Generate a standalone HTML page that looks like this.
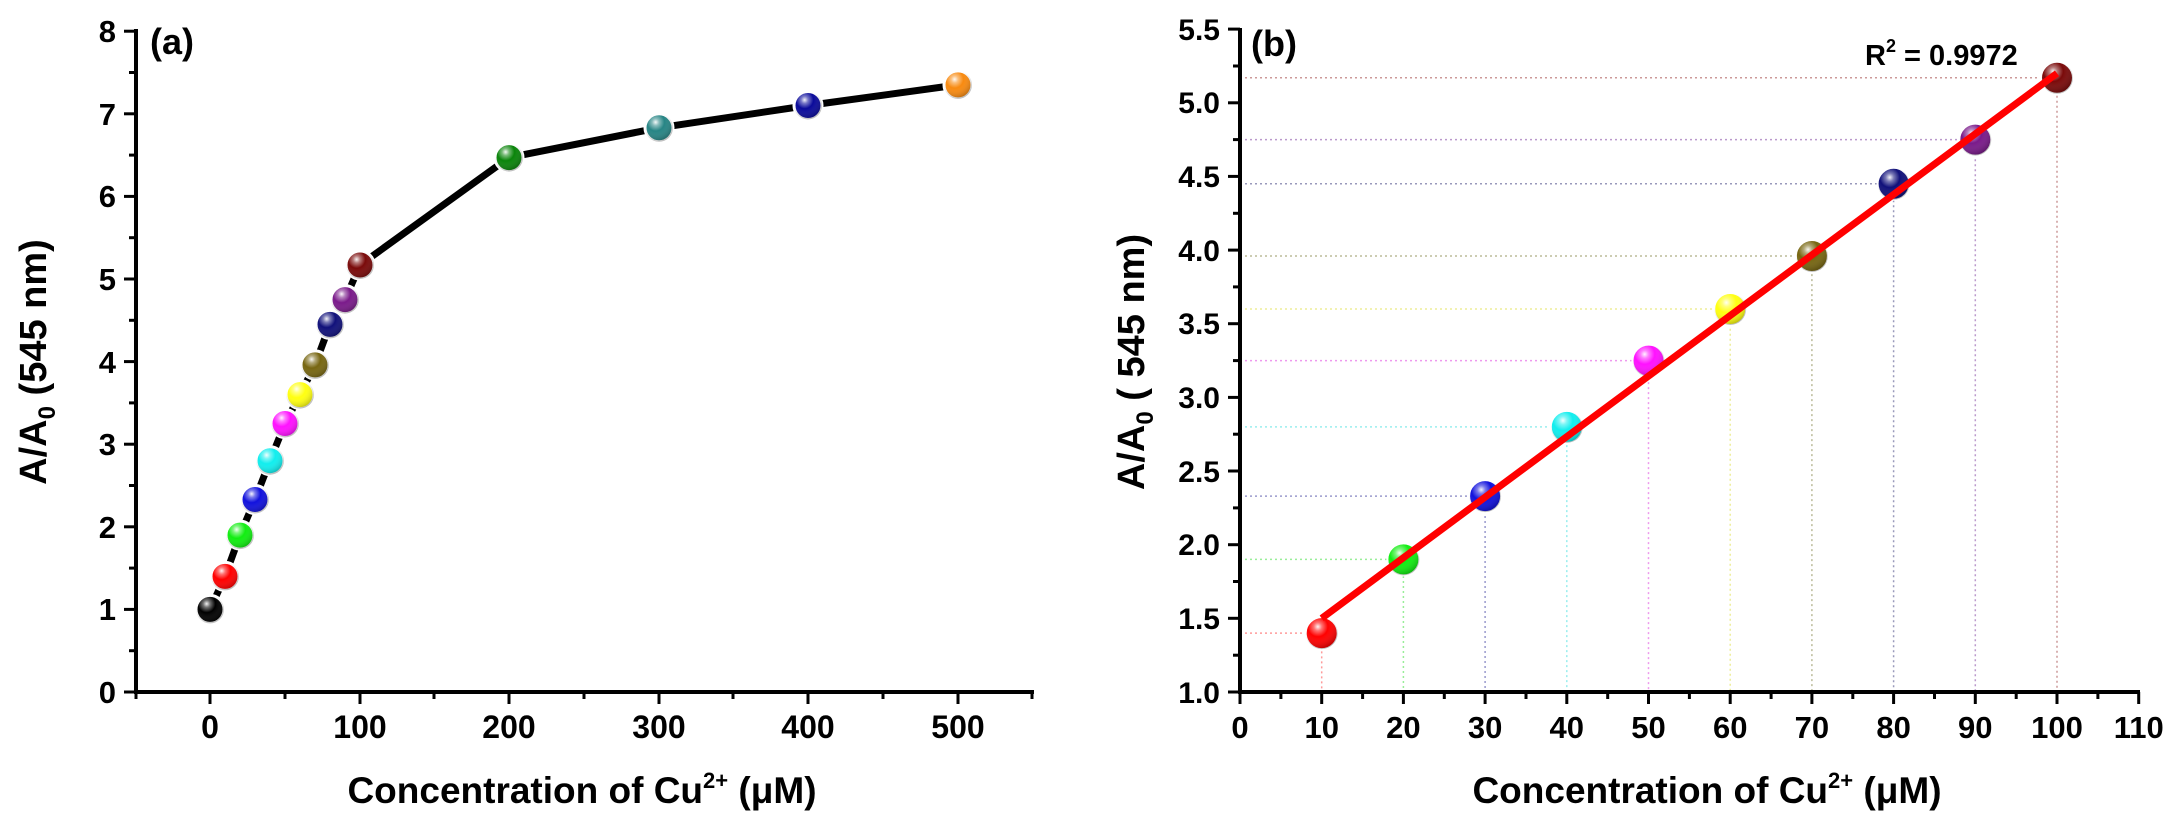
<!DOCTYPE html>
<html><head><meta charset="utf-8"><style>
html,body{margin:0;padding:0;background:#fff;}
svg{display:block;font-family:"Liberation Sans",Arial,sans-serif;font-weight:bold;}
</style></head><body>
<svg width="2179" height="828" viewBox="0 0 2179 828" xmlns="http://www.w3.org/2000/svg">
<defs>
<radialGradient id="hl" cx="0.38" cy="0.3" r="0.7">
<stop offset="0" stop-color="#fff" stop-opacity="0.95"/>
<stop offset="0.18" stop-color="#fff" stop-opacity="0.45"/>
<stop offset="0.45" stop-color="#fff" stop-opacity="0"/>
<stop offset="1" stop-color="#000" stop-opacity="0.25"/>
</radialGradient>
</defs>

<!-- ===== Panel A ===== -->
<g stroke="#000" stroke-width="4" fill="none">
<line x1="136" y1="29" x2="136" y2="694"/>
<line x1="134" y1="692" x2="1034" y2="692"/>
</g>
<g stroke="#000" stroke-width="3">
<line x1="124" y1="692" x2="136" y2="692"/><line x1="124" y1="609.4" x2="136" y2="609.4"/><line x1="124" y1="526.8" x2="136" y2="526.8"/><line x1="124" y1="444.2" x2="136" y2="444.2"/><line x1="124" y1="361.6" x2="136" y2="361.6"/><line x1="124" y1="279" x2="136" y2="279"/><line x1="124" y1="196.4" x2="136" y2="196.4"/><line x1="124" y1="113.8" x2="136" y2="113.8"/><line x1="124" y1="31.2" x2="136" y2="31.2"/>
<line x1="129" y1="650.7" x2="136" y2="650.7"/><line x1="129" y1="568.1" x2="136" y2="568.1"/><line x1="129" y1="485.5" x2="136" y2="485.5"/><line x1="129" y1="402.9" x2="136" y2="402.9"/><line x1="129" y1="320.3" x2="136" y2="320.3"/><line x1="129" y1="237.7" x2="136" y2="237.7"/><line x1="129" y1="155.1" x2="136" y2="155.1"/><line x1="129" y1="72.5" x2="136" y2="72.5"/>
<line x1="210" y1="692" x2="210" y2="704"/><line x1="360" y1="692" x2="360" y2="704"/><line x1="509" y1="692" x2="509" y2="704"/><line x1="659" y1="692" x2="659" y2="704"/><line x1="808" y1="692" x2="808" y2="704"/><line x1="958" y1="692" x2="958" y2="704"/>
<line x1="136" y1="692" x2="136" y2="699"/><line x1="285" y1="692" x2="285" y2="699"/><line x1="434" y1="692" x2="434" y2="699"/><line x1="584" y1="692" x2="584" y2="699"/><line x1="733" y1="692" x2="733" y2="699"/><line x1="883" y1="692" x2="883" y2="699"/><line x1="1032" y1="692" x2="1032" y2="699"/>
</g>
<g font-size="31" text-anchor="end">
<text x="116" y="703">0</text><text x="116" y="620">1</text><text x="116" y="538">2</text><text x="116" y="455">3</text><text x="116" y="373">4</text><text x="116" y="290">5</text><text x="116" y="207">6</text><text x="116" y="125">7</text><text x="116" y="42">8</text>
</g>
<g font-size="32" text-anchor="middle">
<text x="210" y="738">0</text><text x="360" y="738">100</text><text x="509" y="738">200</text><text x="659" y="738">300</text><text x="808" y="738">400</text><text x="958" y="738">500</text>
</g>
<text x="582" y="803" font-size="37" text-anchor="middle">Concentration of Cu<tspan font-size="22" dy="-15">2+</tspan><tspan dy="15"> (μM)</tspan></text>
<text transform="translate(46,362) rotate(-90)" font-size="38" text-anchor="middle">A/A<tspan font-size="24" dy="9">0</tspan><tspan dy="-9"> (545 nm)</tspan></text>
<text x="150" y="54" font-size="36">(a)</text>

<polyline fill="none" stroke="#000" stroke-width="7" stroke-linejoin="round" points="210,609.4 225,576.4 240,535.1 255,499.5 270,460.7 285,423.5 300,394.6 315,364.9 330,324.4 345,299.6 360,265 509,157.6 659,127.8 808,105.5 958,84.9"/>
<g stroke="#fff" stroke-width="3">
<circle cx="210" cy="609.4" r="14" fill="#000"/><circle cx="225" cy="576.4" r="14" fill="#f00"/><circle cx="240" cy="535.1" r="14" fill="#1e1"/><circle cx="255" cy="499.5" r="14" fill="#11d"/><circle cx="270" cy="460.7" r="14" fill="#1ee"/><circle cx="285" cy="423.5" r="14" fill="#f1f"/><circle cx="300" cy="394.6" r="14" fill="#ff1"/><circle cx="315" cy="364.9" r="14" fill="#776611"/><circle cx="330" cy="324.4" r="14" fill="#10107a"/><circle cx="345" cy="299.6" r="14" fill="#7a1a8a"/><circle cx="360" cy="265" r="14" fill="#7a0a0a"/><circle cx="509" cy="157.6" r="14" fill="#0a840a"/><circle cx="659" cy="127.8" r="14" fill="#278585"/><circle cx="808" cy="105.5" r="14" fill="#0a0a9a"/><circle cx="958" cy="84.9" r="14" fill="#f88a10"/>
</g>
<g fill="url(#hl)">
<circle cx="210" cy="609.4" r="14"/><circle cx="225" cy="576.4" r="14"/><circle cx="240" cy="535.1" r="14"/><circle cx="255" cy="499.5" r="14"/><circle cx="270" cy="460.7" r="14"/><circle cx="285" cy="423.5" r="14"/><circle cx="300" cy="394.6" r="14"/><circle cx="315" cy="364.9" r="14"/><circle cx="330" cy="324.4" r="14"/><circle cx="345" cy="299.6" r="14"/><circle cx="360" cy="265" r="14"/><circle cx="509" cy="157.6" r="14"/><circle cx="659" cy="127.8" r="14"/><circle cx="808" cy="105.5" r="14"/><circle cx="958" cy="84.9" r="14"/>
</g>

<!-- ===== Panel B ===== -->
<g stroke-width="1.5" stroke-dasharray="2,3" fill="none">
<polyline stroke="#f99" points="1240,633.1 1321.7,633.1 1321.7,692"/>
<polyline stroke="#9e9" points="1240,559.4 1403.4,559.4 1403.4,692"/>
<polyline stroke="#99c" points="1240,496.1 1485.1,496.1 1485.1,692"/>
<polyline stroke="#9ee" points="1240,426.9 1566.8,426.9 1566.8,692"/>
<polyline stroke="#e9e" points="1240,360.6 1648.5,360.6 1648.5,692"/>
<polyline stroke="#ee9" points="1240,309 1730.2,309 1730.2,692"/>
<polyline stroke="#bb9" points="1240,256 1811.9,256 1811.9,692"/>
<polyline stroke="#99b" points="1240,183.8 1893.6,183.8 1893.6,692"/>
<polyline stroke="#b9c" points="1240,139.6 1975.3,139.6 1975.3,692"/>
<polyline stroke="#c99" points="1240,77.8 2057,77.8 2057,692"/>
</g>
<g stroke="#000" stroke-width="4" fill="none">
<line x1="1240" y1="28" x2="1240" y2="694"/>
<line x1="1238" y1="692" x2="2140" y2="692"/>
</g>
<g stroke="#000" stroke-width="3">
<line x1="1228" y1="692" x2="1240" y2="692"/><line x1="1228" y1="618.3" x2="1240" y2="618.3"/><line x1="1228" y1="544.7" x2="1240" y2="544.7"/><line x1="1228" y1="471" x2="1240" y2="471"/><line x1="1228" y1="397.4" x2="1240" y2="397.4"/><line x1="1228" y1="323.7" x2="1240" y2="323.7"/><line x1="1228" y1="250.1" x2="1240" y2="250.1"/><line x1="1228" y1="176.4" x2="1240" y2="176.4"/><line x1="1228" y1="102.8" x2="1240" y2="102.8"/><line x1="1228" y1="29.1" x2="1240" y2="29.1"/>
<line x1="1233" y1="655.2" x2="1240" y2="655.2"/><line x1="1233" y1="581.5" x2="1240" y2="581.5"/><line x1="1233" y1="507.9" x2="1240" y2="507.9"/><line x1="1233" y1="434.2" x2="1240" y2="434.2"/><line x1="1233" y1="360.6" x2="1240" y2="360.6"/><line x1="1233" y1="286.9" x2="1240" y2="286.9"/><line x1="1233" y1="213.3" x2="1240" y2="213.3"/><line x1="1233" y1="139.6" x2="1240" y2="139.6"/><line x1="1233" y1="66" x2="1240" y2="66"/>
<line x1="1240" y1="692" x2="1240" y2="704"/><line x1="1321.7" y1="692" x2="1321.7" y2="704"/><line x1="1403.4" y1="692" x2="1403.4" y2="704"/><line x1="1485.1" y1="692" x2="1485.1" y2="704"/><line x1="1566.8" y1="692" x2="1566.8" y2="704"/><line x1="1648.5" y1="692" x2="1648.5" y2="704"/><line x1="1730.2" y1="692" x2="1730.2" y2="704"/><line x1="1811.9" y1="692" x2="1811.9" y2="704"/><line x1="1893.6" y1="692" x2="1893.6" y2="704"/><line x1="1975.3" y1="692" x2="1975.3" y2="704"/><line x1="2057" y1="692" x2="2057" y2="704"/><line x1="2138.7" y1="692" x2="2138.7" y2="704"/>
<line x1="1280.9" y1="692" x2="1280.9" y2="699"/><line x1="1362.6" y1="692" x2="1362.6" y2="699"/><line x1="1444.3" y1="692" x2="1444.3" y2="699"/><line x1="1526" y1="692" x2="1526" y2="699"/><line x1="1607.7" y1="692" x2="1607.7" y2="699"/><line x1="1689.4" y1="692" x2="1689.4" y2="699"/><line x1="1771.1" y1="692" x2="1771.1" y2="699"/><line x1="1852.8" y1="692" x2="1852.8" y2="699"/><line x1="1934.5" y1="692" x2="1934.5" y2="699"/><line x1="2016.2" y1="692" x2="2016.2" y2="699"/><line x1="2097.9" y1="692" x2="2097.9" y2="699"/>
</g>
<g font-size="30" text-anchor="end">
<text x="1220" y="703">1.0</text><text x="1220" y="629">1.5</text><text x="1220" y="555">2.0</text><text x="1220" y="482">2.5</text><text x="1220" y="408">3.0</text><text x="1220" y="334">3.5</text><text x="1220" y="261">4.0</text><text x="1220" y="187">4.5</text><text x="1220" y="113">5.0</text><text x="1220" y="40">5.5</text>
</g>
<g font-size="31" text-anchor="middle">
<text x="1240" y="738">0</text><text x="1321.7" y="738">10</text><text x="1403.4" y="738">20</text><text x="1485.1" y="738">30</text><text x="1566.8" y="738">40</text><text x="1648.5" y="738">50</text><text x="1730.2" y="738">60</text><text x="1811.9" y="738">70</text><text x="1893.6" y="738">80</text><text x="1975.3" y="738">90</text><text x="2057" y="738">100</text><text x="2138.7" y="738">110</text>
</g>
<text x="1707" y="803" font-size="37" text-anchor="middle">Concentration of Cu<tspan font-size="22" dy="-15">2+</tspan><tspan dy="15"> (μM)</tspan></text>
<text transform="translate(1144,362) rotate(-90)" font-size="38" text-anchor="middle">A/A<tspan font-size="24" dy="9">0</tspan><tspan dy="-9"> ( 545 nm)</tspan></text>
<text x="1251" y="56" font-size="36">(b)</text>
<text x="1865" y="65" font-size="29">R<tspan font-size="18" dy="-13">2</tspan><tspan dy="13"> = 0.9972</tspan></text>

<g stroke="#fff" stroke-width="2">
<circle cx="1321.7" cy="633.1" r="16" fill="#f00"/><circle cx="1403.4" cy="559.4" r="16" fill="#1e1"/><circle cx="1485.1" cy="496.1" r="16" fill="#11d"/><circle cx="1566.8" cy="426.9" r="16" fill="#1ee"/><circle cx="1648.5" cy="360.6" r="16" fill="#f1f"/><circle cx="1730.2" cy="309" r="16" fill="#ff1"/><circle cx="1811.9" cy="256" r="16" fill="#776611"/><circle cx="1893.6" cy="183.8" r="16" fill="#10107a"/><circle cx="1975.3" cy="139.6" r="16" fill="#7a1a8a"/><circle cx="2057" cy="77.8" r="16" fill="#7a0a0a"/>
</g>
<g fill="url(#hl)">
<circle cx="1321.7" cy="633.1" r="16"/><circle cx="1403.4" cy="559.4" r="16"/><circle cx="1485.1" cy="496.1" r="16"/><circle cx="1566.8" cy="426.9" r="16"/><circle cx="1648.5" cy="360.6" r="16"/><circle cx="1730.2" cy="309" r="16"/><circle cx="1811.9" cy="256" r="16"/><circle cx="1893.6" cy="183.8" r="16"/><circle cx="1975.3" cy="139.6" r="16"/><circle cx="2057" cy="77.8" r="16"/>
</g>
<line x1="1321.7" y1="618.3" x2="2057" y2="73.3" stroke="#f00" stroke-width="7"/>
</svg>
</body></html>
